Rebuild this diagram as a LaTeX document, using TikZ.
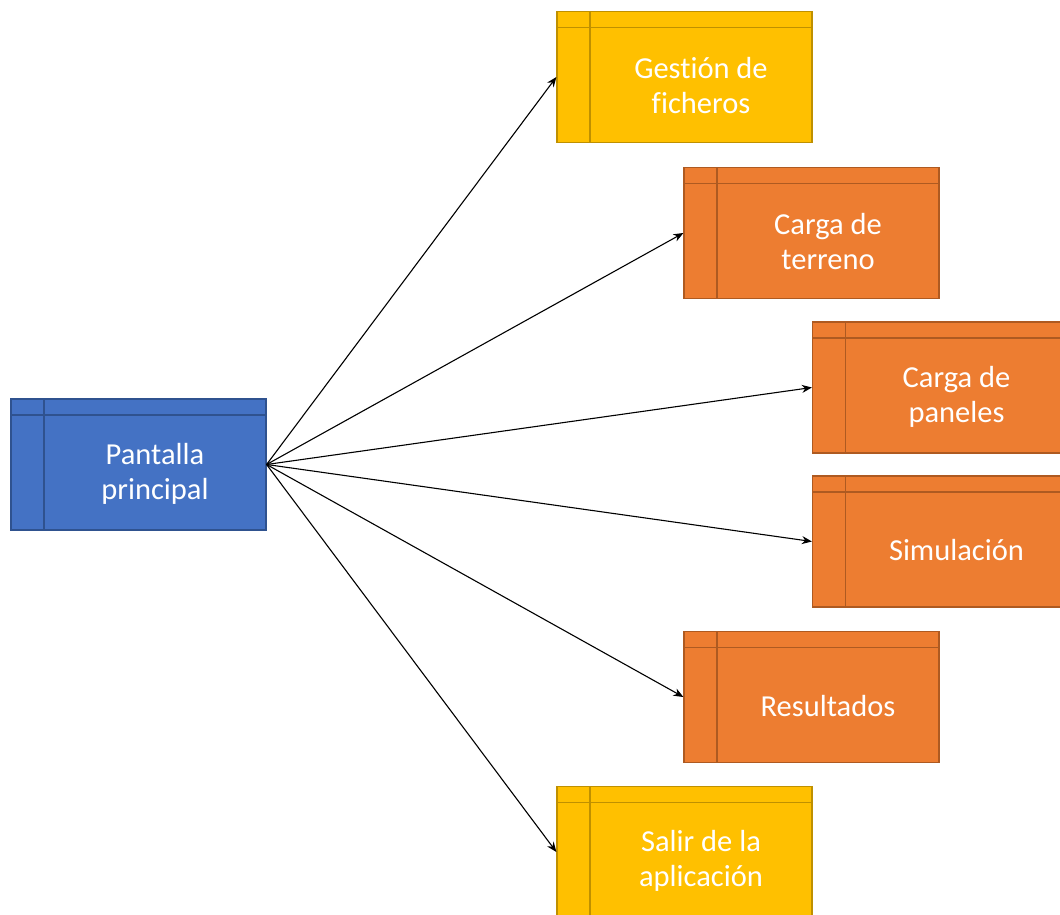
\documentclass[tikz,border=0pt]{standalone}
\usepackage{fontspec}
\setmainfont{Carlito}[Ligatures=NoCommon]
\usetikzlibrary{arrows.meta}
\definecolor{bluefill}{HTML}{4472C4}
\definecolor{blueline}{HTML}{2F528F}
\definecolor{yelfill}{HTML}{FFC000}
\definecolor{yelline}{HTML}{BF9000}
\definecolor{orafill}{HTML}{ED7D31}
\definecolor{oraline}{HTML}{AE5A21}
\tikzset{
  x=1pt,y=1pt,
  storebox/.style={rectangle, minimum width=255pt, minimum height=131pt, inner sep=0pt, line width=1.2pt,
    path picture={
      \draw[line width=1.2pt, #1] ([xshift=33pt]path picture bounding box.north west) -- ([xshift=33pt]path picture bounding box.south west);
      \draw[line width=1.2pt, #1] ([yshift=-16pt]path picture bounding box.north west) -- ([yshift=-16pt]path picture bounding box.north east);
    }},
  bluebox/.style={storebox=blueline, fill=bluefill, draw=blueline},
  yelbox/.style={storebox=yelline, fill=yelfill, draw=yelline},
  orabox/.style={storebox=oraline, fill=orafill, draw=oraline},
  lbl/.style={text=white, align=center, font=\fontsize{30.5pt}{35pt}\selectfont, inner sep=0pt},
  conn/.style={-{Stealth[length=10pt,width=8pt]}, line width=1.1pt, black}
}
\begin{document}
\begin{tikzpicture}
\useasboundingbox (0,0) rectangle (1060,914);
\clip (0,0) rectangle (1060,914);
\node[bluebox] (P) at (138.5,449.5) {};
\node[lbl] (Pl) at ([xshift=16.5pt,yshift=-9pt]P.center) {Pantalla\\principal};
\node[yelbox] (G) at (684.5,837) {};
\node[lbl] (Gl) at ([xshift=16.5pt,yshift=-9pt]G.center) {Gestión de\\ficheros};
\node[orabox] (T) at (811.5,681) {};
\node[lbl] (Tl) at ([xshift=16.5pt,yshift=-9pt]T.center) {Carga de\\terreno};
\node[orabox] (Pa) at (940,526.5) {};
\node[lbl] (Pal) at ([xshift=16.5pt,yshift=-9pt]Pa.center) {Carga de\\paneles};
\node[orabox] (S) at (940,372.5) {};
\node[lbl] (Sl) at ([xshift=16.5pt,yshift=-9pt]S.center) {Simulación};
\node[orabox] (R) at (811.5,217) {};
\node[lbl] (Rl) at ([xshift=16.5pt,yshift=-9pt]R.center) {Resultados};
\node[yelbox] (Sa) at (684.5,62) {};
\node[lbl] (Sal) at ([xshift=16.5pt,yshift=-9pt]Sa.center) {Salir de la\\aplicación};
\foreach \t in {G,T,Pa,S,R,Sa}{
  \draw[conn] (P.east) -- (\t.west);
}
\end{tikzpicture}
\end{document}
